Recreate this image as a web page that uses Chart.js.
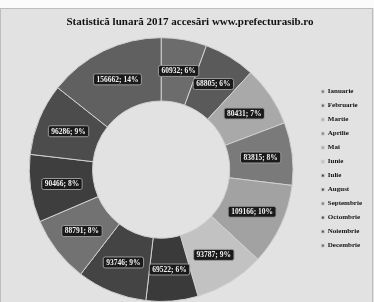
<!DOCTYPE html>
<html>
<head>
<meta charset="utf-8">
<script src="https://cdn.jsdelivr.net/npm/chart.js@4"></script>
<style>
  html, body { margin: 0; padding: 0; background: #e2e2e2; }
  #wrap { width: 374px; height: 302px; position: relative; }
</style>
</head>
<body>
<div id="wrap"><canvas id="myChart" width="374" height="302"></canvas></div>
<script>
const luni = ['Ianuarie', 'Februarie', 'Martie', 'Aprilie', 'Mai', 'Iunie',
  'Iulie', 'August', 'Septembrie', 'Octombrie', 'Noiembrie', 'Decembrie'];
const accesari = [60932, 68805, 80431, 83815, 109166, 93787,
  69522, 93746, 88791, 90466, 96286, 156662];
const culori = ['#6c6c6c', '#5a5a5a', '#a9a9a9', '#7a7a7a', '#a2a2a2', '#c2c2c2',
  '#3a3a3a', '#444444', '#727272', '#3e3e3e', '#4c4c4c', '#606060'];

// fundal + rama
const fundal = {
  id: 'fundal',
  beforeDraw(chart) {
    const c = chart.ctx;
    c.save();
    c.fillStyle = '#fbfbfb';
    c.fillRect(0, 0, chart.width, 8);
    c.strokeStyle = '#bdbdbd';
    c.lineWidth = 1;
    c.strokeRect(0.5, 8.5, chart.width - 2, chart.height - 8);
    c.restore();
  }
};

// etichete "valoare; procent" in mijlocul fiecarei felii
const eticheteFelii = {
  id: 'eticheteFelii',
  afterDatasetsDraw(chart) {
    const ctx = chart.ctx;
    const meta = chart.getDatasetMeta(0);
    const total = accesari.reduce((a, b) => a + b, 0);
    ctx.save();
    ctx.font = 'bold 7.5px "Liberation Serif"';
    ctx.textAlign = 'center';
    ctx.textBaseline = 'middle';
    meta.data.forEach((arc, i) => {
      const p = arc.tooltipPosition();
      const txt = accesari[i] + '; ' + Math.round(accesari[i] / total * 100) + '%';
      const w = ctx.measureText(txt).width + 6;
      ctx.fillStyle = '#1a1a1a';
      ctx.strokeStyle = '#999';
      ctx.lineWidth = 1;
      ctx.beginPath();
      ctx.roundRect(p.x - w / 2, p.y - 5.5, w, 11, 2);
      ctx.fill();
      ctx.stroke();
      ctx.fillStyle = '#f2f2f2';
      ctx.fillText(txt, p.x, p.y + 0.5);
    });
    ctx.restore();
  }
};

const ctx = document.getElementById('myChart');

new Chart(ctx, {
  type: 'doughnut',
  data: {
    labels: luni,
    datasets: [{
      data: accesari,
      backgroundColor: culori,
      borderColor: '#cfcfcf',
      borderWidth: 1
    }]
  },
  options: {
    responsive: false,
    animation: false,
    cutout: '52%',
    layout: { padding: { left: 8, right: 2, top: 0, bottom: 0 } },
    plugins: {
      title: {
        display: true,
        text: 'Statistică lunară 2017 accesări www.prefecturasib.ro',
        color: '#111',
        font: { family: 'Liberation Serif', size: 11, weight: 'bold' },
        padding: { top: 16, bottom: 8 }
      },
      legend: {
        position: 'right',
        title: {
          display: true,
          text: ' ',
          font: { size: 1 },
          padding: { top: 34, bottom: 0 }
        },
        labels: {
          boxWidth: 3,
          boxHeight: 3,
          padding: 7,
          color: '#111',
          font: { family: 'Liberation Serif', size: 7, weight: 'bold' }
        }
      },
      tooltip: { enabled: false }
    }
  },
  plugins: [fundal, eticheteFelii]
});
</script>
</body>
</html>
